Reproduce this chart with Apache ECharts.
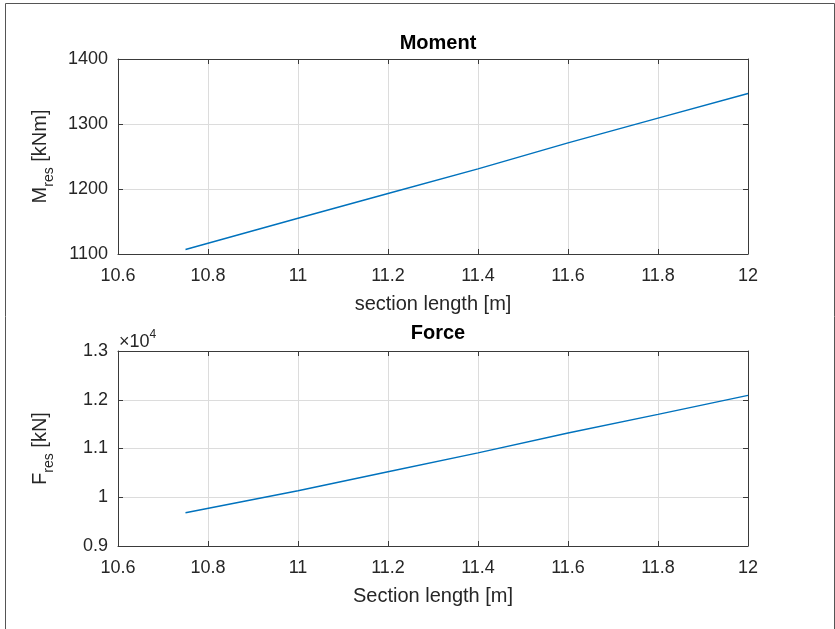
<!DOCTYPE html>
<html>
<head>
<meta charset="utf-8">
<title>Moment / Force</title>
<script src="https://cdn.jsdelivr.net/npm/echarts@6/dist/echarts.min.js"></script>
<style>
  html, body { margin: 0; padding: 0; background: #fff; }
  #main { width: 835px; height: 629px; }
</style>
</head>
<body>
<div id="main"></div>
<script>
// values
var sectionLength = [10.75, 11, 11.2, 11.4, 11.6, 11.8, 12];
var moment = [1107, 1155, 1193, 1231, 1271, 1309, 1347];   // kNm
var force = [9680, 10135, 10525, 10910, 11320, 11700, 12090]; // kN

var xTicks = { min: 10.6, max: 12, interval: 0.2 };
var momentTicks = { min: 1100, max: 1400, interval: 100 };
var forceTicks = { min: 9000, max: 13000, interval: 1000 };

var FONT = 'Liberation Sans, Arial, Helvetica, sans-serif';
var TXT = '#262626';
var BOX = '#3a3a3a';
var GRIDC = '#dcdcdc';
var BLUE = '#0072BD';

function pairOf(xy) {
    var out = [];
    for (var i = 0; i < sectionLength.length; i++)
        out.push([sectionLength[i], xy[i]]);
    return out;
}

// bottom/left axes carry labels, top/right only the inward ticks
function xAxisFor(gridIndex, name, show) {
    return {
        type: 'value', gridIndex: gridIndex, position: show ? 'bottom' : 'top',
        min: xTicks.min, max: xTicks.max, interval: xTicks.interval,
        name: show ? name : '', nameLocation: 'middle', nameGap: 40,
        nameTextStyle: { fontFamily: FONT, fontSize: 20, color: TXT },
        axisLine: { show: true, onZero: false, lineStyle: { color: BOX, width: 1 } },
        axisTick: { show: true, inside: true, length: 5, lineStyle: { color: BOX } },
        axisLabel: { show: show, margin: 13, fontFamily: FONT, fontSize: 18, color: TXT },
        splitLine: { show: show, lineStyle: { color: GRIDC, width: 1 } }
    };
}

function yAxisFor(gridIndex, ticks, name, show, fmt) {
    return {
        type: 'value', gridIndex: gridIndex, position: show ? 'left' : 'right',
        min: ticks.min, max: ticks.max, interval: ticks.interval,
        name: show ? name : '', nameLocation: 'middle', nameGap: 62, nameRotate: 90,
        nameTextStyle: {
            fontFamily: FONT, fontSize: 20, color: TXT,
            rich: {
                m: { fontFamily: FONT, fontSize: 20, color: TXT, lineHeight: 26, verticalAlign: 'top' },
                s: { fontFamily: FONT, fontSize: 14, color: TXT, lineHeight: 26, verticalAlign: 'bottom' }
            }
        },
        axisLine: { show: true, onZero: false, lineStyle: { color: BOX, width: 1 } },
        axisTick: { show: true, inside: true, length: 5, lineStyle: { color: BOX } },
        axisLabel: { show: show, margin: 10, fontFamily: FONT, fontSize: 18, color: TXT, formatter: fmt },
        splitLine: { show: show, lineStyle: { color: GRIDC, width: 1 } }
    };
}

var chart = echarts.init(document.getElementById('main'), null, { renderer: 'canvas' });

var option = {
    animation: false,
    backgroundColor: '#fff',
    title: [
        { text: 'Moment', left: 433, top: 28, textAlign: 'center',
          textStyle: { fontFamily: FONT, fontSize: 20, fontWeight: 'bold', color: '#000' } },
        { text: 'Force', left: 433, top: 318, textAlign: 'center',
          textStyle: { fontFamily: FONT, fontSize: 20, fontWeight: 'bold', color: '#000' } }
    ],
    grid: [
        { left: 118, top: 59, width: 630, height: 195, show: false },
        { left: 118, top: 351, width: 630, height: 195, show: false }
    ],
    xAxis: [
        xAxisFor(0, 'section length [m]', true),
        xAxisFor(0, '', false),
        xAxisFor(1, 'Section length [m]', true),
        xAxisFor(1, '', false)
    ],
    yAxis: [
        yAxisFor(0, momentTicks, '{m|M}{s|res}{m| [kNm]}', true, function (v) { return String(v); }),
        yAxisFor(0, momentTicks, '', false),
        yAxisFor(1, forceTicks, '{m|F}{s|res}{m| [kN]}', true, function (v) { return String(v / 10000); }),
        yAxisFor(1, forceTicks, '', false)
    ],
    series: [
        { type: 'line', xAxisIndex: 0, yAxisIndex: 0, data: pairOf(moment),
          showSymbol: false, lineStyle: { color: BLUE, width: 1.5 }, itemStyle: { color: BLUE } },
        { type: 'line', xAxisIndex: 2, yAxisIndex: 2, data: pairOf(force),
          showSymbol: false, lineStyle: { color: BLUE, width: 1.5 }, itemStyle: { color: BLUE } }
    ],
    graphic: [
        { type: 'rect', left: 3, top: 1, silent: true,
          shape: { width: 829, height: 626 },
          style: { fill: null, stroke: '#555', lineWidth: 1 } },
        { type: 'text', left: 119, top: 329, silent: true,
          style: { text: '{a|\u00d710}{b|4}', fill: TXT,
                   rich: { a: { fontFamily: FONT, fontSize: 18, fill: TXT, verticalAlign: 'bottom', lineHeight: 22 },
                           b: { fontFamily: FONT, fontSize: 12, fill: TXT, verticalAlign: 'top', lineHeight: 22 } } } }
    ]
};

chart.setOption(option);
</script>
</body>
</html>
